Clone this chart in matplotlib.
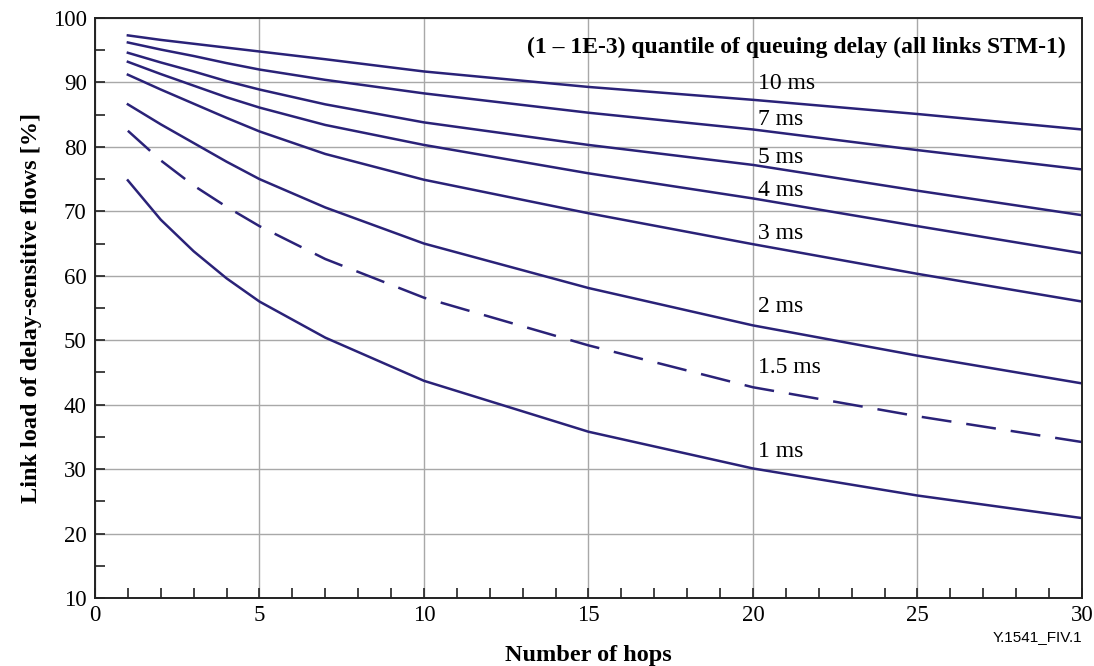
import matplotlib.pyplot as plt
from matplotlib.ticker import MultipleLocator

# Number of hops at which each curve is read
hops = [1, 2, 3, 4, 5, 7, 10, 15, 20, 25, 30]

# Link load [%] per delay quantile
load_10ms = [97.3, 96.6, 96.0, 95.4, 94.8, 93.6, 91.7, 89.3, 87.3, 85.1, 82.7]
load_7ms = [96.2, 95.1, 94.1, 93.0, 92.0, 90.4, 88.3, 85.3, 82.7, 79.5, 76.5]
load_5ms = [94.6, 93.1, 91.7, 90.2, 88.9, 86.6, 83.8, 80.3, 77.2, 73.2, 69.4]
load_4ms = [93.2, 91.3, 89.5, 87.7, 86.1, 83.4, 80.3, 75.9, 72.0, 67.7, 63.5]
load_3ms = [91.2, 88.9, 86.7, 84.5, 82.4, 78.9, 74.9, 69.7, 64.9, 60.3, 56.0]
load_2ms = [86.6, 83.5, 80.6, 77.7, 75.0, 70.6, 65.0, 58.1, 52.3, 47.6, 43.3]
load_1_5ms = [82.5, 77.9, 74.0, 70.7, 67.7, 62.6, 56.6, 49.2, 42.7, 38.2, 34.2]
load_1ms = [74.8, 68.7, 63.8, 59.6, 56.0, 50.4, 43.7, 35.8, 30.1, 25.9, 22.4]

series = [load_10ms, load_7ms, load_5ms, load_4ms, load_3ms, load_2ms, load_1_5ms, load_1ms]
curve_labels = ['10 ms', '7 ms', '5 ms', '4 ms', '3 ms', '2 ms', '1.5 ms', '1 ms']
label_y = [89.9, 84.3, 78.4, 73.3, 66.6, 55.2, 45.7, 32.8]

serif = ['Liberation Serif', 'DejaVu Serif']
navy = '#2a2278'

fig = plt.figure(figsize=(10.94, 6.66), dpi=100)
ax = fig.add_axes([0.0868, 0.1021, 0.9022, 0.8709])

for vals, name in zip(series, curve_labels):
    if name == '1.5 ms':
        ax.plot(hops, vals, color=navy, lw=1.8, dashes=(12, 6))
    else:
        ax.plot(hops, vals, color=navy, lw=1.8)

for name, y in zip(curve_labels, label_y):
    ax.text(20.15, y, name, family=serif, fontsize=17, va='center', ha='left')

ax.text(29.5, 95.4, '(1 \u2013 1E-3) quantile of queuing delay (all links STM-1)',
        family=serif, fontsize=17, fontweight='bold', ha='right', va='center')

ax.set_xlim(0, 30)
ax.set_ylim(10, 100)
ax.xaxis.set_major_locator(MultipleLocator(5))
ax.xaxis.set_minor_locator(MultipleLocator(1))
ax.yaxis.set_major_locator(MultipleLocator(10))
ax.yaxis.set_minor_locator(MultipleLocator(5))
ax.grid(True, which='major', color='#a8a8a8', lw=1.0)
ax.set_axisbelow(True)

ax.tick_params(which='both', direction='in', length=7, width=1.2, color='#222222')
ax.tick_params(axis='x', which='major', pad=5)
ax.tick_params(axis='y', which='major', pad=6)
for lab in ax.get_xticklabels() + ax.get_yticklabels():
    lab.set_family(serif)
    lab.set_fontsize(16.5)

for sp in ax.spines.values():
    sp.set_linewidth(1.4)
    sp.set_color('#222222')

ax.set_xlabel('Number of hops', family=serif, fontsize=17.5, fontweight='bold', labelpad=14)
ax.set_ylabel('Link load of delay-sensitive flows [%]', family=serif, fontsize=17.5,
              fontweight='bold', labelpad=8)

fig.text(0.989, 0.044, 'Y.1541_FIV.1', family=['Liberation Sans', 'DejaVu Sans'],
         fontsize=11, ha='right', va='center')

fig.savefig('out.png', dpi=100)
